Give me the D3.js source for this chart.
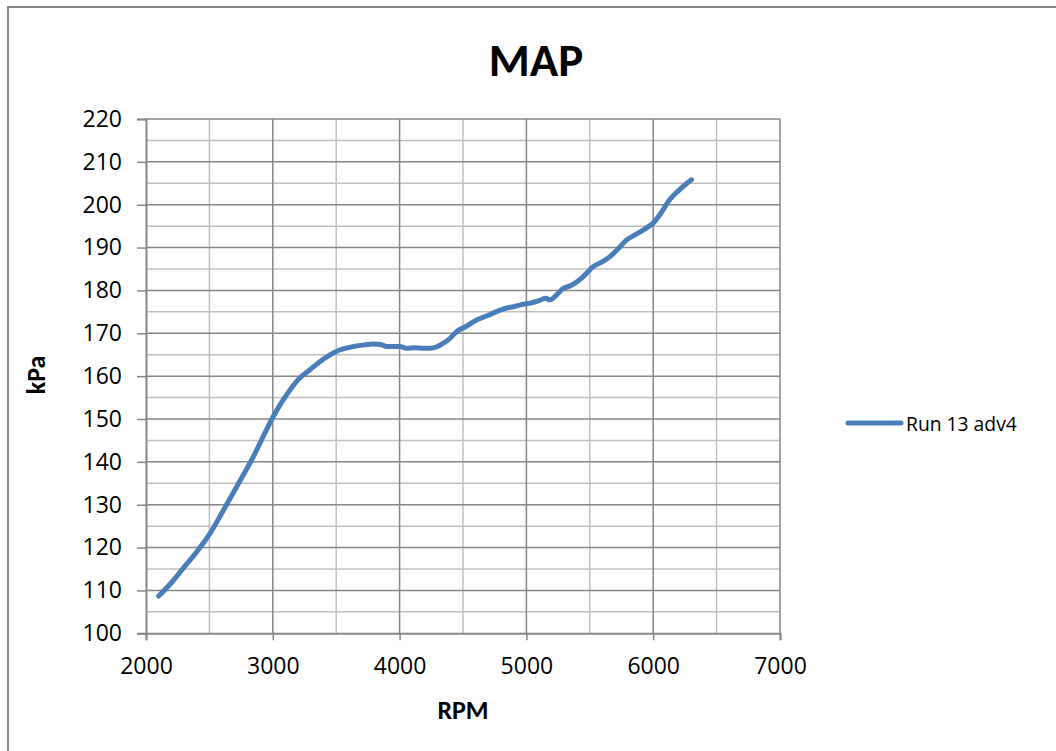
<!DOCTYPE html>
<html><head><meta charset="utf-8">
<script src="https://cdn.jsdelivr.net/npm/d3@7"></script>
<style>body{margin:0;background:#fff}svg{display:block}text{font-family:Carlito,Lato,"Open Sans",sans-serif}</style>
</head><body>
<svg id="c" width="1056" height="751"></svg>
<script>
const seriesName = "Run 13 adv4";
const rpm = [2100,2200,2294,2400,2505,2597,2715,2860,2930,3004,3083,3136,3200,3293,3400,3477,3560,3635,3720,3793,3850,3898,3950,4003,4055,4120,4187,4240,4290,4345,4400,4450,4530,4607,4700,4760,4844,4900,4960,5026,5100,5150,5186,5240,5291,5340,5383,5440,5528,5600,5659,5720,5791,5860,5948,6000,6060,6131,6200,6250,6302];
const kpa = [108.7,111.8,115.2,119.0,123.3,128.0,134.2,142.0,146.3,150.6,154.5,156.8,159.2,161.5,164.0,165.4,166.4,166.9,167.3,167.5,167.4,166.9,166.9,166.9,166.5,166.6,166.5,166.5,166.8,167.7,168.9,170.4,171.7,173.1,174.2,175.0,175.9,176.2,176.7,177.0,177.6,178.2,177.8,179.0,180.5,181.0,181.7,183.0,185.6,186.7,187.9,189.6,191.8,193.0,194.6,195.7,198.0,201.2,203.3,204.6,205.8];
const xTicks = [2000,3000,4000,5000,6000,7000];
const yTicks = [100,110,120,130,140,150,160,170,180,190,200,210,220];

const svg = d3.select("#c");
const L = 146, R = 780, T = 119, B = 633.3;
const x = d3.scaleLinear().domain([2000,7000]).range([L,R]);
const y = d3.scaleLinear().domain([100,220]).range([B,T]);
const FONT = "'Open Sans',Lato,sans-serif";

// outer frame
svg.append("path").attr("d","M8,760 L8,7 L1070,7").attr("fill","none").attr("stroke","#868686").attr("stroke-width",2);

const g = svg.append("g");
// minor grid
d3.range(2500,7000,1000).forEach(v=>g.append("line").attr("x1",x(v)).attr("x2",x(v)).attr("y1",T).attr("y2",B).attr("stroke","#c0c0c0").attr("stroke-width",1.5));
d3.range(105,220,10).forEach(v=>g.append("line").attr("x1",L).attr("x2",R).attr("y1",y(v)).attr("y2",y(v)).attr("stroke","#c0c0c0").attr("stroke-width",1.5));
// major grid
xTicks.slice(1).forEach(v=>g.append("line").attr("x1",x(v)).attr("x2",x(v)).attr("y1",T).attr("y2",B).attr("stroke","#868686").attr("stroke-width",1.5));
yTicks.slice(1).forEach(v=>g.append("line").attr("x1",L).attr("x2",R).attr("y1",y(v)).attr("y2",y(v)).attr("stroke","#868686").attr("stroke-width",1.5));

// axes
const xa = svg.append("g").attr("transform",`translate(0,${B})`).call(d3.axisBottom(x).tickValues(xTicks).tickSize(7).tickPadding(17).tickFormat(d3.format("d")));
const ya = svg.append("g").attr("transform",`translate(${L},0)`).call(d3.axisLeft(y).tickValues(yTicks).tickSize(9).tickPadding(15).tickFormat(d3.format("d")));
[xa,ya].forEach(a=>{
  a.attr("font-size",23).attr("font-family",FONT);
  a.select(".domain").attr("stroke","#868686").attr("stroke-width",2);
  a.selectAll(".tick line").attr("stroke","#868686").attr("stroke-width",1.5);
  a.selectAll("text").style("font-size","23px").style("font-family",FONT).attr("fill","#000");
});

// line
const data = rpm.map((r,i)=>[r,kpa[i]]);
svg.append("path").datum(data).attr("fill","none").attr("stroke","#4a7ebb").attr("stroke-width",5).attr("stroke-linecap","round").attr("stroke-linejoin","round")
  .attr("d",d3.line().x(d=>x(d[0])).y(d=>y(d[1])).curve(d3.curveMonotoneX));

// titles
svg.append("text").attr("x",536).attr("y",76).attr("text-anchor","middle").style("font-size","47px").attr("font-weight","bold").text("MAP");
svg.append("text").attr("x",463).attr("y",719).attr("text-anchor","middle").style("font-size","26px").attr("font-weight","bold").text("RPM");
svg.append("text").attr("transform","translate(45,375) rotate(-90)").attr("text-anchor","middle").style("font-size","26px").attr("font-weight","bold").text("kPa");

// legend
svg.append("line").attr("x1",848).attr("x2",901).attr("y1",423).attr("y2",423).attr("stroke","#4a7ebb").attr("stroke-width",5).attr("stroke-linecap","round");
svg.append("text").attr("x",906).attr("y",431).style("font-size","19.3px").style("font-family",FONT).text(seriesName);
</script>
</body></html>
